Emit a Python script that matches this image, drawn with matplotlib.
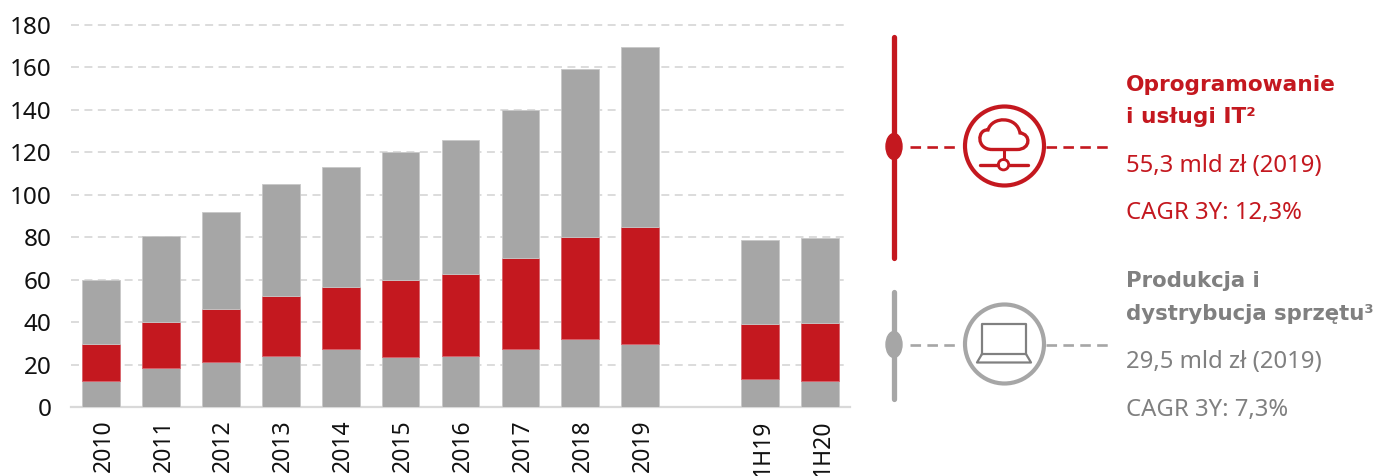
import matplotlib
matplotlib.use("Agg")
import matplotlib.pyplot as plt
from matplotlib.patches import Circle, Ellipse, PathPatch
from matplotlib.path import Path
from matplotlib.transforms import ScaledTranslation

labels = ["2010", "2011", "2012", "2013", "2014", "2015", "2016", "2017", "2018", "2019", "1H19", "1H20"]
positions = [0, 1, 2, 3, 4, 5, 6, 7, 8, 9, 11, 12]
# the three stacked parts
grey_bottom = [12.3, 18.2, 21, 24, 27.3, 23.5, 24, 27.3, 32, 29.5, 13.2, 12.3]
red_middle = [17.5, 21.8, 25, 28.5, 29.2, 36.5, 38.8, 42.7, 48, 55.5, 26, 27.3]
grey_top = [30.2, 40.5, 46, 52.5, 56.5, 60, 62.9, 70, 79.5, 84.5, 39.3, 40.1]
y_ticks = [0, 20, 40, 60, 80, 100, 120, 140, 160, 180]

RED = "#c4181f"
BAR_GREY = "#a6a6a6"
TEXT_GREY = "#808080"
W, H = 1376, 476

plt.rcParams["font.family"] = ["Noto Sans", "DejaVu Sans"]

fig = plt.figure(figsize=(W / 100, H / 100), dpi=100)

# chart area
ax = fig.add_axes([71 / W, 1 - 407 / H, (850 - 71) / W, (407 - 25) / H])
mid_base = [b for b in grey_bottom]
top_base = [b + m for b, m in zip(grey_bottom, red_middle)]
ax.bar(positions, grey_bottom, width=0.63, color=BAR_GREY, edgecolor="#c8c8c8", linewidth=0.6, zorder=3)
ax.bar(positions, red_middle, width=0.63, bottom=mid_base, color=RED, edgecolor="#d8606a", linewidth=0.6, zorder=3)
ax.bar(positions, grey_top, width=0.63, bottom=top_base, color=BAR_GREY, edgecolor="#c8c8c8", linewidth=0.6, zorder=3)

ax.set_xlim(-0.5, 12.5)
ax.set_ylim(0, 180)
ax.set_yticks(y_ticks)
ax.set_xticks(positions)
ax.set_xticklabels(labels, rotation=90, fontsize=16.5, color="#111111")
ax.tick_params(axis="y", length=0, pad=14, labelsize=17.5, labelcolor="#111111")
ax.tick_params(axis="x", length=0, pad=9)
# the year labels sit a bit right of the bar centres
for lab in ax.get_xticklabels():
    lab.set_transform(lab.get_transform() + ScaledTranslation(2.5 / 100, 0, fig.dpi_scale_trans))
# dashed lines stop just short of the axis end
ax.hlines(y_ticks[1:], -0.5, 12.43, color="#dcdcdc", linestyle=(0, (4.1, 2.8)), linewidth=1.4, zorder=0, clip_on=False)
for s in ["top", "right", "left"]:
    ax.spines[s].set_visible(False)
ax.spines["bottom"].set_color("#d9d9d9")
ax.spines["bottom"].set_linewidth(1.6)

# side panel, drawn in pixel coordinates
ov = fig.add_axes([0, 0, 1, 1])
ov.set_xlim(0, W)
ov.set_ylim(H, 0)
ov.axis("off")


def branch(color, y_top, y_bottom, y_mid):
    ov.plot([894, 894], [y_top, y_bottom], color=color, lw=3.8, solid_capstyle="round")
    ov.add_patch(Ellipse((894, y_mid), 16, 26, color=color))
    ov.plot([910, 960], [y_mid, y_mid], color=color, lw=1.9, linestyle=(0, (4, 2.4)))
    ov.plot([1046, 1108], [y_mid, y_mid], color=color, lw=1.9, linestyle=(0, (4, 2.4)))
    ov.add_patch(Circle((1004.5, y_mid - 0.5), 39.5, fill=False, edgecolor=color, lw=3))


branch(RED, 37, 258, 146.5)
branch(BAR_GREY, 292, 399, 344.5)

# cloud icon
cloud = Path(
    [(992, 149.5), (1017, 149.5), (1031, 149.5), (1031, 134), (1020, 133), (1017, 116), (992, 116), (988, 130),
     (977, 129), (976, 149.5), (992, 149.5)],
    [Path.MOVETO, Path.LINETO, Path.CURVE4, Path.CURVE4, Path.CURVE4, Path.CURVE4, Path.CURVE4, Path.CURVE4,
     Path.CURVE4, Path.CURVE4, Path.CURVE4],
)
ov.add_patch(PathPatch(cloud, fill=False, edgecolor=RED, lw=2.4))
ov.plot([1003.5, 1003.5], [150, 159], color=RED, lw=2.2)
ov.plot([980, 998], [164.5, 164.5], color=RED, lw=2.4, solid_capstyle="round")
ov.plot([1009, 1028], [164.5, 164.5], color=RED, lw=2.4, solid_capstyle="round")
ov.add_patch(Circle((1003.5, 164.7), 5.2, fill=False, edgecolor=RED, lw=2))

# laptop icon
ov.plot([982, 982, 1026, 1026], [354, 324, 324, 354], color=TEXT_GREY, lw=1.6, solid_joinstyle="round")
ov.plot([982, 1026, 1031, 977, 982], [354, 354, 362.5, 362.5, 354], color=TEXT_GREY, lw=1.6, solid_joinstyle="round")

# texts, the bold lines use DejaVu since Noto Sans has no bold face here
ov.text(1126, 91, "Oprogramowanie", color=RED, fontsize=15.6, fontweight="bold", family="DejaVu Sans", va="baseline")
ov.text(1126, 123, "i usługi IT²", color=RED, fontsize=15.6, fontweight="bold", family="DejaVu Sans", va="baseline")
ov.text(1126, 172, "55,3 mld zł (2019)", color=RED, fontsize=17.2, va="baseline")
ov.text(1126, 219, "CAGR 3Y: 12,3%", color=RED, fontsize=17.2, va="baseline")
ov.text(1126, 287, "Produkcja i", color=TEXT_GREY, fontsize=15.3, fontweight="bold", family="DejaVu Sans", va="baseline")
ov.text(1126, 320, "dystrybucja sprzętu³", color=TEXT_GREY, fontsize=15.3, fontweight="bold", family="DejaVu Sans", va="baseline")
ov.text(1126, 368, "29,5 mld zł (2019)", color=TEXT_GREY, fontsize=17.2, va="baseline")
ov.text(1126, 416, "CAGR 3Y: 7,3%", color=TEXT_GREY, fontsize=17.2, va="baseline")

fig.savefig("out.png", dpi=100)
